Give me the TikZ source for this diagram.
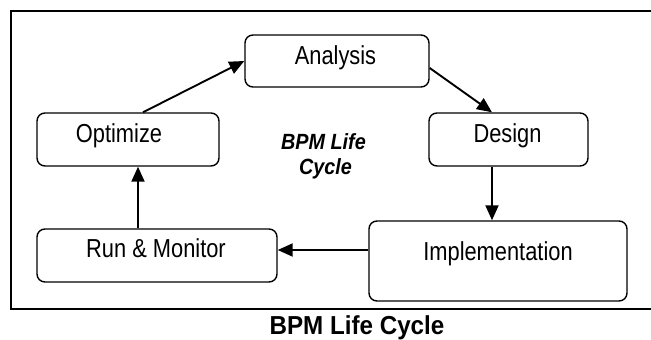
\documentclass[tikz,border=0pt]{standalone}
\usepackage{fontspec}
\setmainfont{Liberation Sans}[FakeStretch=0.84]
\newfontfamily\midfont{Liberation Sans}[FakeStretch=0.9]
\newfontfamily\capfont{Liberation Sans}[FakeStretch=0.93]
\usetikzlibrary{arrows.meta,calc}
\begin{document}
\begin{tikzpicture}[x=1pt,y=-1pt,
  box/.style={draw, line width=1.4pt, rounded corners=8pt, inner sep=0pt},
  lbl/.style={anchor=base, font=\fontsize{26}{30}\selectfont, inner sep=0pt},
  mid/.style={anchor=base, inner sep=0pt, font=\midfont\fontsize{22}{26}\selectfont\bfseries\itshape},
  flow/.style={line width=1.9pt, -{Triangle[length=15pt,width=13pt]}}]
\useasboundingbox (0,0) rectangle (651,340);
\draw[line width=2pt] (660,11) -- (11,11) -- (11,309) -- (660,309);
% boxes
\node[box, minimum width=184pt, minimum height=52pt] (ana) at (337,61) {};
\node[box, minimum width=182pt, minimum height=53pt] (opt) at (128,139.5) {};
\node[box, minimum width=159pt, minimum height=53pt] (des) at (508.5,139.5) {};
\node[box, minimum width=240pt, minimum height=53pt] (run) at (157,255.5) {};
\node[box, minimum width=258pt, minimum height=80pt] (imp) at (498,261) {};
% labels
\node[lbl] (anat) at (335.5,64) {Analysis};
\node[lbl] (optt) at (119,142) {Optimize};
\node[lbl] (dest) at (507.5,142) {Design};
\node[lbl] (runt) at (156,257) {Run \& Monitor};
\node[lbl] (impt) at (498,260) {Implementation};
\node[mid] (c1) at (323.5,149) {BPM Life};
\node[mid] (c2) at (325.5,174) {Cycle};
\node[anchor=base, inner sep=0pt, font=\capfont\fontsize{26}{31}\selectfont\bfseries] (cap) at (357,334) {BPM Life Cycle};
% connectors
\draw[flow] ([xshift=15pt]opt.north) -- (ana.west);
\draw[flow] ([yshift=-7pt]ana.east) -- ([xshift=-16.5pt]des.north);
\draw[flow] ([xshift=-16.5pt]des.south) -- ([xshift=-6pt]imp.north);
\draw[flow] ([yshift=11pt]imp.west) coordinate (iw) -- (iw -| run.east);
\draw[flow] ([xshift=-19pt]run.north) coordinate (rn) -- (rn |- opt.south);
\end{tikzpicture}
\end{document}
